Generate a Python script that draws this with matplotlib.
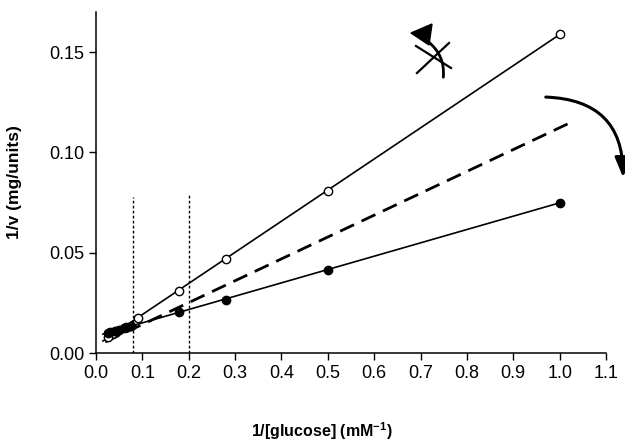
import numpy as np
import matplotlib.pyplot as plt
from matplotlib.patches import FancyArrowPatch, Polygon

plt.rcParams['font.family'] = ['Liberation Sans', 'DejaVu Sans']
plt.rcParams['mathtext.fontset'] = 'custom'
plt.rcParams['mathtext.rm'] = 'Liberation Sans'
plt.rcParams['mathtext.bf'] = 'Liberation Sans:bold'

# open circles (upper line)
open_x = [1.0, 0.5, 0.28, 0.18, 0.09, 0.06, 0.045, 0.035, 0.025]
open_y = [0.159, 0.081, 0.047, 0.031, 0.0175, 0.0125, 0.011, 0.0095, 0.008]

# filled circles (lower line)
filled_x = [1.0, 0.5, 0.28, 0.18, 0.075, 0.065, 0.05, 0.04, 0.03, 0.025]
filled_y = [0.075, 0.0415, 0.0265, 0.0205, 0.0135, 0.013, 0.0115, 0.011, 0.0105, 0.010]

# dashed reference line end points
dash_x = [0.02, 1.02]
dash_y = [0.0055, 0.1145]

# dotted vertical markers
vline_x = [0.08, 0.2]
vline_top = [0.078, 0.080]

xticks = np.arange(0, 1.11, 0.1)
yticks = [0.0, 0.05, 0.10, 0.15]

fig = plt.figure(figsize=(6.25, 4.46), dpi=100)
ax = fig.add_axes([96 / 625, 1 - 353 / 446, 510 / 625, 341 / 446])

# fitted lines
po = np.polyfit(open_x, open_y, 1)
pf = np.polyfit(filled_x, filled_y, 1)
xx = np.array([0.015, 1.0])
ax.plot(xx, np.polyval(po, xx), color='black', lw=1.2, zorder=2)
ax.plot(xx, np.polyval(pf, xx), color='black', lw=1.2, zorder=2)
ax.plot(dash_x, dash_y, color='black', lw=2.0, dashes=(5.5, 3), zorder=2)

for vx, vt in zip(vline_x, vline_top):
    ax.plot([vx, vx], [0, vt], color='black', lw=1.0, dashes=(2, 1.6), zorder=1)

ax.plot(open_x, open_y, 'o', ms=6, mfc='white', mec='black', mew=1.0, zorder=3)
ax.plot(filled_x, filled_y, 'o', ms=6, mfc='black', mec='black', zorder=3)

ax.set_xlim(0, 1.1)
ax.set_ylim(0, 0.17)
ax.set_xticks(xticks)
ax.set_xticklabels([f'{t:.1f}' for t in xticks])
ax.set_yticks(yticks)
ax.set_yticklabels([f'{t:.2f}' for t in yticks])
ax.spines['top'].set_visible(False)
ax.spines['right'].set_visible(False)
ax.tick_params(direction='out', length=5, width=1, labelsize=13, colors='black')
for s in ('left', 'bottom'):
    ax.spines[s].set_linewidth(1.1)

ax.set_ylabel('1/v (mg/units)', fontsize=12.5, fontweight='bold')
ax.yaxis.set_label_coords(-0.145, 0.5)
fig.text(322 / 625, 1 - 431 / 446, r'1/[glucose] (mM$^\mathbf{-1}$)', fontsize=11.5,
         fontweight='bold', ha='center', va='center')


def px(x, y):
    return (x / 625, 1 - y / 446)


# curved arrow on the right (runs off the edge like the original)
arc = FancyArrowPatch(px(543, 97), px(623, 180), transform=fig.transFigure,
                      connectionstyle='arc3,rad=-0.5',
                      arrowstyle='-|>,head_length=0.6,head_width=0.25',
                      lw=2.2, color='black', mutation_scale=20)
fig.add_artist(arc)

# rotation symbol near the top
sym = FancyArrowPatch(px(426, 40), px(443, 80), transform=fig.transFigure,
                      connectionstyle='arc3,rad=-0.3', arrowstyle='-', lw=2.0, color='black')
fig.add_artist(sym)
fig.add_artist(Polygon([px(411, 33), px(432, 24), px(429, 45)], closed=True,
                       transform=fig.transFigure, color='black'))
fig.add_artist(plt.Line2D([px(417, 73)[0], px(449, 43)[0]], [px(417, 73)[1], px(449, 43)[1]],
                          transform=fig.transFigure, color='black', lw=1.6))
fig.add_artist(plt.Line2D([px(416, 46)[0], px(451, 68)[0]], [px(416, 46)[1], px(451, 68)[1]],
                          transform=fig.transFigure, color='black', lw=1.6))

fig.savefig('out.png', dpi=100)
